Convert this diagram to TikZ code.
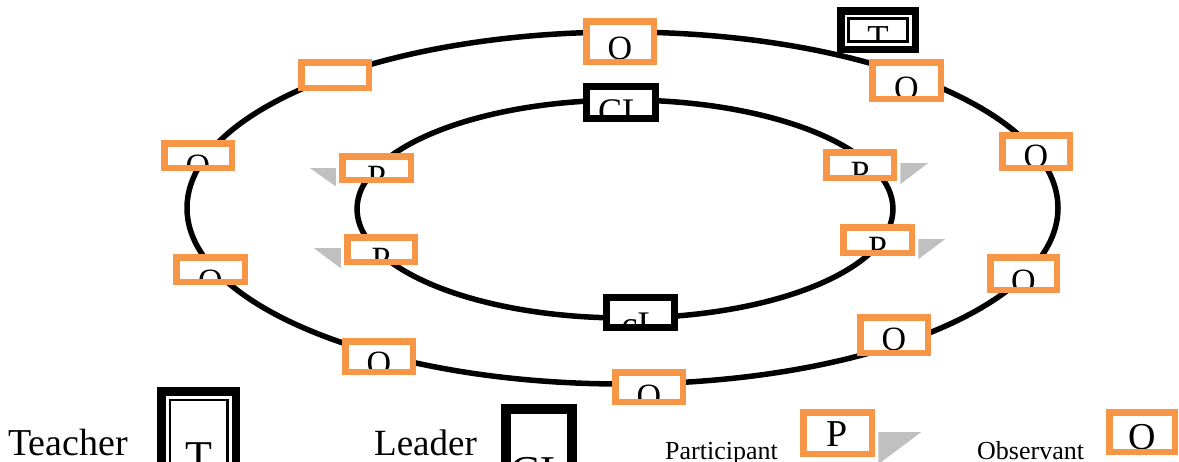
\documentclass[tikz,border=0pt]{standalone}
\usepackage{fontspec}
\setmainfont{Liberation Serif}
\usepackage{xcolor}
\usepackage{tikz}
\usetikzlibrary{positioning}
\definecolor{boxorange}{HTML}{F79646}
\definecolor{shadowgrey}{HTML}{C0C0C0}

\begin{document}
\begin{tikzpicture}[x=1pt,y=-1pt,
	ring/.style={draw=black,line width=5.5pt},
	letter/.style={inner sep=0pt,anchor=base,font=\fontsize{#1}{#1}\selectfont},
	legend/.style={inner sep=0pt,anchor=base west,font=\fontsize{#1}{#1}\selectfont},
	shadow/.style={fill=shadowgrey},
	obsbox/.style n args={3}{draw=boxorange,line width=6.5pt,fill=white,inner sep=0pt,
		minimum width=67.5pt,minimum height=24.5pt,
		path picture={\node[letter=#3] at ([yshift=#2]path picture bounding box.south) {#1};}},
	leadbox/.style n args={3}{draw=black,line width=7pt,fill=white,inner sep=0pt,
		path picture={\node[letter=#3] at ([yshift=#2]path picture bounding box.south) {#1};}},
	teachbox/.style n args={4}{draw=black,fill=white,inner sep=0pt,
		path picture={
			\begin{scope}
				\clip ([shift={(#4,#4)}]path picture bounding box.south west) rectangle ([shift={(-#4,-#4)}]path picture bounding box.north east);
				\node[letter=#3] at ([yshift=#2]path picture bounding box.south) {#1};
			\end{scope}
			\draw[line width=2.7pt] ([shift={(#4,#4)}]path picture bounding box.south west) rectangle ([shift={(-#4,-#4)}]path picture bounding box.north east);
		}}
	]
	\useasboundingbox (0,0) rectangle (1179,461);

	% the two circles
	\draw[ring] (622.5,208) ellipse [x radius=435.5pt,y radius=176pt];
	\draw[ring] (625,209) ellipse [x radius=268pt,y radius=109pt];

	% outer circle
	\node[obsbox={O}{2.75pt}{34},minimum height=40.5pt] (o1) at (620,41.5) {};
	\node[obsbox={}{0pt}{34},minimum height=25.5pt] (o2) at (335,75) {};
	\node[obsbox={O}{-9.25pt}{34}] (o3) at (198,155.5) {};
	\node[obsbox={O}{-10.25pt}{34},minimum width=68.5pt] (o4) at (210.5,269.5) {};
	\node[obsbox={O}{-2.25pt}{34},minimum height=30.5pt] (o5) at (379,356.5) {};
	\node[obsbox={O}{-5.25pt}{34},minimum height=29.5pt] (o6) at (649,387) {};
	\node[obsbox={O}{2.75pt}{34},minimum height=35.5pt] (o7) at (894,335) {};
	\node[obsbox={O}{-2.25pt}{34},minimum width=66.5pt,minimum height=32.5pt] (o8) at (1023.5,273.5) {};
	\node[obsbox={O}{0.75pt}{34},minimum height=32.5pt] (o9) at (1036,151.5) {};
	\node[obsbox={O}{-0.25pt}{34},minimum width=68.5pt,minimum height=36.5pt] (o10) at (906.5,80.5) {};
	\node[teachbox={T}{0pt}{35}{7.75pt},line width=7.5pt,minimum width=74.5pt,minimum height=38.5pt] (t1) at (878,30) {};

	% inner circle
	\node[leadbox={CL}{-5.25pt}{36},minimum width=69pt,minimum height=32pt] (cl1) at (621,102.5) {};
	\node[leadbox={cL}{-9.25pt}{36},minimum width=68pt,minimum height=30pt] (cl2) at (640.5,312.5) {};
	\node[obsbox={P}{-8.25pt}{34},minimum width=68.5pt,minimum height=23.5pt] (p1) at (376.5,168) {};
	\node[obsbox={P}{-8.25pt}{34}] (p2) at (381,249.5) {};
	\node[obsbox={P}{-6.25pt}{34},minimum height=25.5pt] (p3) at (860,165) {};
	\node[obsbox={P}{-6.25pt}{34},minimum width=68.5pt,minimum height=25.5pt] (p4) at (877.5,240) {};

	\fill[shadow] ([xshift=-29.25pt]p1.west) -- ([xshift=-3.25pt]p1.west) -- ([shift={(-3.25pt,-3.25pt)}]p1.south west) -- cycle;
	\fill[shadow] ([shift={(-30.25pt,1.5pt)}]p2.west) -- ([shift={(-3.25pt,1.5pt)}]p2.west) -- ([shift={(-3.25pt,-3.25pt)}]p2.south west) -- cycle;
	\fill[shadow] ([shift={(31.25pt,2pt)}]p3.east) -- ([shift={(3.25pt,2pt)}]p3.east) -- ([shift={(3.25pt,-3.25pt)}]p3.south east) -- cycle;
	\fill[shadow] ([shift={(30.25pt,1pt)}]p4.east) -- ([shift={(3.25pt,1pt)}]p4.east) -- ([shift={(3.25pt,-3.25pt)}]p4.south east) -- cycle;

	% legend
	\node[legend=38] (teacher) at (8,455) {Teacher};
	\node[teachbox={T}{14.75pt}{44}{8.6pt},line width=8.5pt,minimum width=74.5pt,minimum height=94.5pt] (tkey) at (198.5,438.5) {};
	\node[legend=37] (leader) at (374,455) {Leader};
	\node[leadbox={CL}{-11pt}{44},line width=10pt,minimum width=66pt,minimum height=66pt] (clkey) at (539,442) {};
	\node[legend=26] (participant) at (665,459) {Participant};
	\node[obsbox={P}{7.75pt}{38},minimum width=68.5pt,minimum height=41.5pt] (pkey) at (837.5,433) {};
	\fill[shadow] ([shift={(46.25pt,1pt)}]pkey.east) -- ([shift={(3.25pt,1pt)}]pkey.east) -- ([shift={(3.25pt,-7.25pt)}]pkey.south east) -- cycle;
	\node[legend=26] (observant) at (977,459) {Observant};
	\node[obsbox={O}{2.75pt}{38},minimum width=65.5pt,minimum height=39.5pt] (okey) at (1142,432) {};
\end{tikzpicture}
\end{document}
